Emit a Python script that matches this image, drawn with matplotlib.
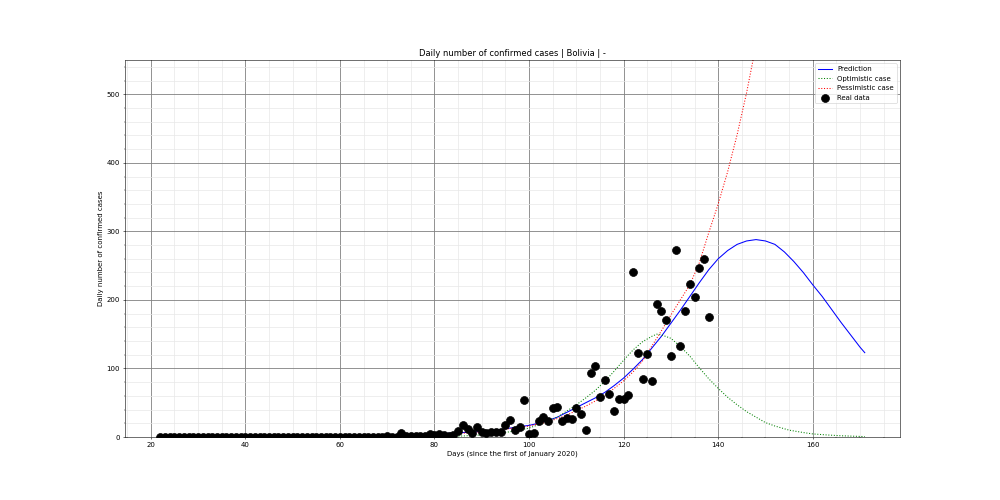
import numpy as np
import matplotlib
matplotlib.use('Agg')
import matplotlib.pyplot as plt

# real data (daily confirmed cases)
data_days = list(range(22, 139))
data_cases = [0] * 48 + [
    2, 0, 0, 6, 1, 2, 1, 1, 1, 4, 3, 5, 3, 2, 3,          # 70-84
    9, 17, 11, 6, 14, 8, 6, 7, 8, 7, 17, 25, 10, 14, 54,   # 85-99
    4, 6, 24, 29, 23, 42, 44, 23, 28, 26, 43, 34, 10, 93,  # 100-113
    103, 59, 83, 63, 38, 56, 56, 61, 240, 123, 85, 121,    # 114-125
    82, 194, 184, 170, 118, 273, 133, 184, 223, 204, 247,  # 126-136
    260, 175]                                              # 137-138

# prediction curve
pred_days = [22, 30, 40, 50, 60, 66, 70, 74, 78, 82, 86, 90, 94, 98, 100, 102,
             104, 106, 108, 110, 112, 114, 116, 118, 120, 122, 124, 126, 128,
             130, 132, 134, 136, 138, 140, 142, 144, 146, 148, 150, 152, 154,
             156, 158, 160, 162, 164, 166, 168, 170, 171]
pred_vals = [0, 0, 0.2, 0.5, 1, 1.5, 2, 3, 4, 5, 6.5, 8, 11, 15, 17, 20,
             24, 29, 36, 43, 50, 57, 65, 75, 86, 99, 113, 130, 147,
             166, 185, 205, 225, 244, 260, 272, 281, 286, 288, 286, 281, 270,
             256, 240, 222, 205, 186, 167, 149, 131, 123]

# optimistic case
opt_days = [22, 60, 70, 80, 86, 90, 94, 98, 100, 102, 104, 106, 108, 110, 112,
            114, 116, 118, 120, 122, 124, 126, 127, 128, 130, 132, 134, 136,
            138, 140, 142, 144, 146, 148, 150, 152, 155, 158, 160, 163, 166, 171]
opt_vals = [0, 0, 0.1, 0.5, 1.5, 3, 5.5, 10, 13, 18, 23, 29, 38, 47, 57,
            68, 81, 96, 112, 127, 139, 147, 150, 149, 144, 132, 118, 101,
            85, 71, 58, 47, 37, 29, 21, 16, 10, 6.5, 4.5, 3, 1.8, 0.6]

# pessimistic case
pes_days = [22, 60, 70, 80, 90, 100, 104, 108, 112, 116, 120, 122, 124, 126,
            128, 130, 132, 134, 136, 138, 140, 142, 144, 146, 148, 150]
pes_vals = [0, 0.5, 1.5, 3.5, 7, 16, 22, 32, 45, 60, 82, 95, 111, 133,
            155, 178, 200, 222, 254, 298, 340, 387, 441, 502, 572, 650]

fig = plt.figure(figsize=(20, 10), dpi=50)
ax = fig.add_subplot(111)
fig.subplots_adjust(left=0.125, right=0.9, bottom=0.126, top=0.88)

ax.plot(pred_days, pred_vals, color='b', label='Prediction')
ax.plot(opt_days, opt_vals, color='g', ls=':', label='Optimistic case')
ax.plot(pes_days, pes_vals, color='r', ls=':', label='Pessimistic case')
ax.scatter(data_days, data_cases, color='k', s=130, zorder=3, label='Real data')

ax.set_xlim(14.55, 178.45)
ax.set_ylim(0, 550)
ax.minorticks_on()
ax.grid(which='major', color='#808080', lw=1.2)
ax.grid(which='minor', color='#e8e8e8', lw=1.0)
ax.set_axisbelow(True)

ax.set_title('Daily number of confirmed cases | Bolivia | -')
ax.set_xlabel('Days (since the first of January 2020)')
ax.set_ylabel('Daily number of confirmed cases')
ax.legend(loc='upper right')

plt.savefig('out.png')
